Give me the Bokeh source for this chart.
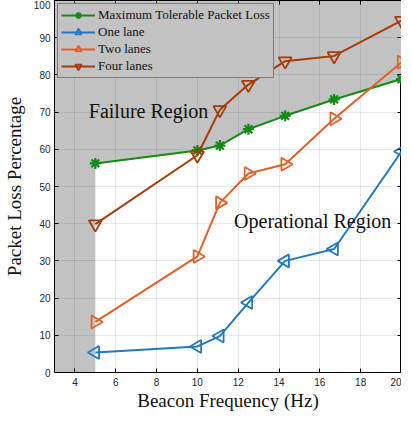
import numpy as np
from bokeh.plotting import figure
from bokeh.models import LinearAxis, Range1d, FixedTicker, Legend, LegendItem, Label
from bokeh.embed import file_html
from bokeh.resources import INLINE

freq = [5, 10, 11.1, 12.5, 14.3, 16.7, 20]
max_tolerable = [56.2, 59.7, 61.0, 65.4, 69.0, 73.4, 78.9]
one_lane = [5.4, 7.0, 9.8, 18.8, 30.0, 33.2, 59.4]
two_lanes = [13.6, 31.2, 45.6, 53.5, 56.0, 68.2, 83.4]
four_lanes = [39.9, 58.4, 70.6, 77.4, 83.7, 85.1, 94.6]

x_ticks = [4, 6, 8, 10, 12, 14, 16, 18, 20]
y_ticks = [0, 10, 20, 30, 40, 50, 60, 70, 80, 90, 100]
x_min, x_max = 3, 20
y_min, y_max = 0, 100

green = "#158a15"
blue = "#2378c0"
orange = "#e0602a"
brown = "#a63c08"
gray_region = "#c2c2c2"
serif = "Liberation Serif"
sans = "Liberation Sans"

p = figure(frame_width=347, frame_height=372, output_backend="svg", toolbar_location=None,
           x_range=Range1d(x_min, x_max), y_range=Range1d(y_min, y_max),
           min_border_left=44, min_border_right=0, min_border_top=0, min_border_bottom=0)
p.background_fill_color = "white"
p.border_fill_color = "white"
p.outline_line_color = "black"
p.outline_line_width = 1

# failure region polygon (above tolerable curve, and left of first point)
px = [x_min, freq[0]] + freq + [x_max, x_min]
py = [y_min, y_min] + max_tolerable + [y_max, y_max]
region = p.patch(px, py, fill_color=gray_region, line_color=None)
region.level = "underlay"

for g in (p.xgrid, p.ygrid):
    g.grid_line_color = "#262626"
    g.grid_line_alpha = 0.1
    g.level = "glyph"
p.xgrid.ticker = FixedTicker(ticks=x_ticks)
p.ygrid.ticker = FixedTicker(ticks=y_ticks)

xa = p.xaxis[0]
xa.ticker = FixedTicker(ticks=x_ticks)
ya = p.yaxis[0]
ya.ticker = FixedTicker(ticks=y_ticks)
for ax in (xa, ya):
    ax.major_tick_in = 4
    ax.major_tick_out = 0
    ax.minor_tick_in = 0
    ax.minor_tick_out = 0
    ax.axis_line_color = "black"
    ax.major_tick_line_color = "black"
    ax.major_label_text_font = sans
    ax.major_label_text_font_size = "10px"
    ax.major_label_text_color = "#262626"
    ax.axis_label_text_font = serif
    ax.axis_label_text_font_size = "19px"
    ax.axis_label_text_font_style = "normal"
    ax.axis_label_text_color = "#111111"
xa.axis_label = "Beacon Frequency (Hz)"
ya.axis_label = "Packet Loss Percentage"
xa.major_label_standoff = 5
xa.axis_label_standoff = 1
ya.major_label_standoff = 4
ya.axis_label_standoff = 6

top = LinearAxis(ticker=FixedTicker(ticks=x_ticks),
                 major_label_overrides={t: "" for t in x_ticks})
right = LinearAxis(ticker=FixedTicker(ticks=y_ticks),
                   major_label_overrides={t: "" for t in y_ticks})
for ax in (top, right):
    ax.major_tick_in = 4
    ax.major_tick_out = 0
    ax.minor_tick_in = 0
    ax.minor_tick_out = 0
    ax.axis_line_color = "black"
    ax.major_tick_line_color = "black"
    ax.major_label_standoff = 0
    ax.axis_label_standoff = 0
p.add_layout(top, "above")
p.add_layout(right, "right")

items = []
lw = 2
r1 = p.line(freq, max_tolerable, line_color=green, line_width=lw)
m1 = p.scatter(freq, max_tolerable, marker="asterisk", size=11, line_color=green, line_width=2.2)
items.append(LegendItem(label="Maximum Tolerable Packet Loss", renderers=[r1, m1]))

r2 = p.line(freq, one_lane, line_color=blue, line_width=lw)
m2 = p.scatter(freq, one_lane, marker="triangle", angle=np.pi / 2, size=13, line_color=blue,
               fill_alpha=0, line_width=1.8)
items.append(LegendItem(label="One lane", renderers=[r2, m2]))

r3 = p.line(freq, two_lanes, line_color=orange, line_width=lw)
m3 = p.scatter(freq, two_lanes, marker="triangle", angle=-np.pi / 2, size=13, line_color=orange,
               fill_alpha=0, line_width=1.8)
items.append(LegendItem(label="Two lanes", renderers=[r3, m3]))

r4 = p.line(freq, four_lanes, line_color=brown, line_width=lw)
m4 = p.scatter(freq, four_lanes, marker="inverted_triangle", size=13, line_color=brown,
               fill_alpha=0, line_width=1.8)
items.append(LegendItem(label="Four lanes", renderers=[r4, m4]))

legend = Legend(items=items, location="top_left")
legend.label_text_font = serif
legend.label_text_font_size = "13px"
legend.label_text_color = "#111111"
legend.background_fill_color = gray_region
legend.background_fill_alpha = 1
legend.border_line_color = "#333333"
legend.border_line_width = 1
legend.glyph_width = 34
legend.glyph_height = 16
legend.label_height = 16
legend.spacing = 1
legend.padding = 3
legend.margin = 3
legend.label_standoff = 3
p.add_layout(legend, "center")

p.add_layout(Label(x=4.68, y=70.4, text="Failure Region", text_font=serif,
                   text_font_size="20px", text_color="#111111", text_baseline="alphabetic"))
p.add_layout(Label(x=11.8, y=40.6, text="Operational Region", text_font=serif,
                   text_font_size="20px", text_color="#111111", text_baseline="alphabetic"))

open("out.html", "w").write(file_html(p, INLINE))
